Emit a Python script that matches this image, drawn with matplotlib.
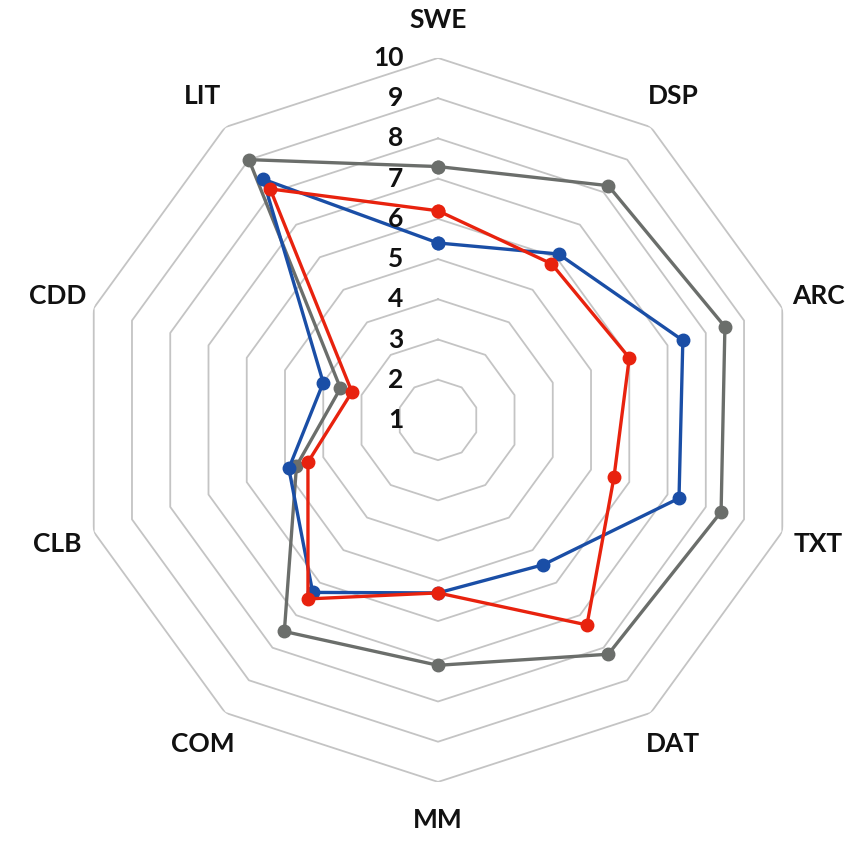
import numpy as np
import matplotlib
matplotlib.use("Agg")
import matplotlib.pyplot as plt

categories = ["SWE", "DSP", "ARC", "TXT", "DAT", "MM", "COM", "CLB", "CDD", "LIT"]
gray_vals = [7.3, 8.2, 8.5, 8.4, 8.2, 7.1, 7.5, 4.7, 3.55, 9.0]
blue_vals = [5.4, 6.1, 7.4, 7.3, 5.45, 5.3, 6.3, 4.9, 4.0, 8.4]
red_vals = [6.2, 5.8, 6.0, 5.6, 7.3, 5.3, 6.5, 4.4, 3.25, 8.1]
tick_vals = [1, 2, 3, 4, 5, 6, 7, 8, 9, 10]

series = [
    (gray_vals, "#6b6e6b"),
    (blue_vals, "#1a4ea6"),
    (red_vals, "#e8220e"),
]

plt.rcParams['font.family'] = ['Lato', 'DejaVu Sans']

fig = plt.figure(figsize=(8.57, 8.42), dpi=100)
ax = fig.add_axes([0.0887, 0.0713, 0.8448, 0.8599], projection='polar')
ax.set_theta_offset(np.pi / 2)
ax.set_theta_direction(-1)
ax.set_rlim(1, 10)
ax.grid(False)
ax.set_xticks([])
ax.set_yticks([])
ax.spines['polar'].set_visible(False)
ax.patch.set_alpha(0)

n = len(categories)
angles = np.arange(n) * 2 * np.pi / n
closed = np.append(angles, angles[0])

# decagonal grid rings
for v in tick_vals[1:]:
    ax.plot(closed, [v] * (n + 1), color="#c4c4c4", lw=1.3, zorder=1)

for vals, col in series:
    vv = list(vals) + [vals[0]]
    ax.plot(closed, vv, color=col, lw=2.4, marker='o', markersize=9,
            markeredgecolor=col, zorder=3)

for a, c in zip(angles, categories):
    ax.text(a, 10.95, c, ha='center', va='center', fontsize=19,
            fontweight='bold', color='#111111', clip_on=False)

for v in tick_vals:
    ax.annotate(str(v), xy=(0, v), xytext=(-25, 0), textcoords='offset points',
                ha='right', va='center', fontsize=19, fontweight='bold',
                color='#111111', annotation_clip=False, zorder=4)

fig.savefig("out.png", dpi=100, facecolor='white')
